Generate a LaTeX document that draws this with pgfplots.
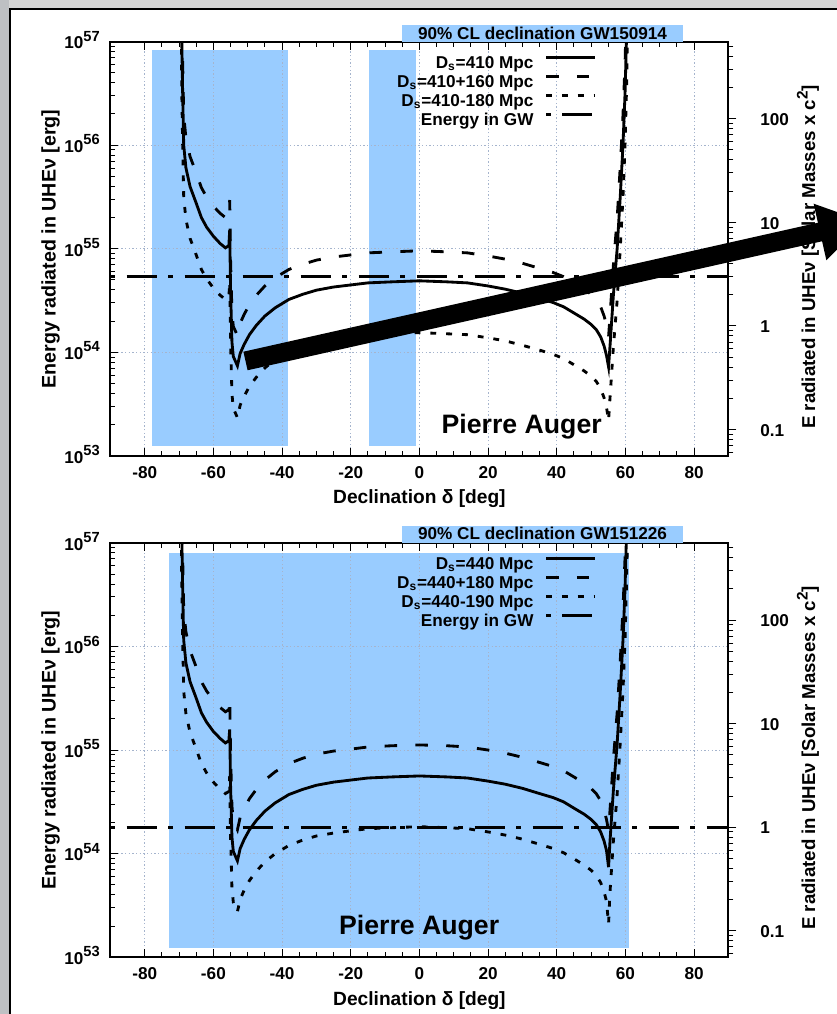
\documentclass[border=0pt]{standalone}
\usepackage{fontspec}
\setmainfont{Liberation Sans}
\usepackage{pgfplots}
\usepackage{pgfplotstable}
\pgfplotsset{compat=1.18}

\definecolor{auger}{RGB}{153,204,255}
\definecolor{gridc}{RGB}{165,180,205}
\definecolor{sideg}{RGB}{190,192,195}
\definecolor{topg}{RGB}{214,214,214}

\newcommand{\tk}{\fontsize{10.3}{12}\selectfont}
\newcommand{\lb}{\fontsize{11.5}{13}\selectfont}
\newcommand{\lby}{\fontsize{11.8}{13}\selectfont}
\newcommand{\lbr}{\fontsize{11.2}{13}\selectfont}
\newcommand{\ex}[1]{\raisebox{4.6pt}{\fontsize{8.8}{9}\selectfont #1}}

% declination, D_s, D_s + err, D_s - err   (energy in erg)
\pgfplotstableread{
dec    S        D        P
-69.4  1e58     1e58     1e58
-69.3  2.00e57  3.89e57  6.31e56
-69.2  1.00e57  1.95e57  3.16e56
-68.95 3.16e56  6.17e56  1.00e56
-68.65 1.00e56  1.95e56  3.16e55
-68.0  6.03e55  1.17e56  1.91e55
-66.8  3.98e55  7.76e55  1.26e55
-65.0  2.75e55  5.37e55  8.71e54
-63.5  2.00e55  3.89e55  6.31e54
-62.0  1.62e55  3.16e55  5.13e54
-60.0  1.32e55  2.57e55  4.17e54
-58.0  1.12e55  2.19e55  3.55e54
-56.5  1.02e55  2.00e55  3.24e54
-55.5  1.07e55  2.09e55  3.39e54
-55.25 1.51e55  2.95e55  4.79e54
-55.0  3.98e54  7.76e54  1.26e54
-54.6  1.26e54  2.45e54  3.98e53
-54.2  9.12e53  1.78e54  2.88e53
-53.0  7.41e53  1.45e54  2.34e53
-52.2  9.77e53  1.91e54  3.09e53
-51.0  1.20e54  2.34e54  3.80e53
-49.5  1.48e54  2.88e54  4.68e53
-47.5  1.82e54  3.55e54  5.75e53
-45.0  2.24e54  4.37e54  7.08e53
-42.0  2.69e54  5.25e54  8.51e53
-38.0  3.24e54  6.31e54  1.02e54
-34.0  3.63e54  7.08e54  1.15e54
-30.0  3.98e54  7.76e54  1.26e54
-25.0  4.27e54  8.32e54  1.35e54
-20.0  4.47e54  8.71e54  1.41e54
-15.0  4.68e54  9.12e54  1.48e54
-8.0   4.79e54  9.33e54  1.51e54
0.0    4.90e54  9.55e54  1.55e54
8.0    4.79e54  9.33e54  1.51e54
14.0   4.68e54  9.12e54  1.48e54
20.0   4.37e54  8.51e54  1.38e54
25.0   4.07e54  7.94e54  1.29e54
30.0   3.72e54  7.24e54  1.17e54
35.0   3.31e54  6.46e54  1.05e54
39.0   3.02e54  5.89e54  9.55e53
42.0   2.75e54  5.37e54  8.71e53
45.0   2.40e54  4.68e54  7.59e53
48.0   2.09e54  4.07e54  6.61e53
50.0   1.86e54  3.63e54  5.89e53
51.5   1.66e54  3.24e54  5.25e53
52.8   1.41e54  2.75e54  4.47e53
53.8   1.15e54  2.24e54  3.63e53
54.5   9.33e53  1.82e54  2.95e53
55.1   7.24e53  1.41e54  2.19e53
55.5   1.12e54  2.19e54  3.55e53
56.5   3.55e54  6.92e54  1.12e54
57.6   1.00e55  1.95e55  3.16e54
58.5   3.16e55  6.17e55  1.00e55
59.3   1.00e56  1.95e56  3.16e55
59.9   3.16e56  6.17e56  1.00e56
60.3   1.00e57  1.95e57  3.16e56
60.5   2.00e57  3.89e57  6.31e56
60.6   1e58     1e58     1e58
}\gwA

\pgfplotstableread{
dec    S        D        P
-69.4  1e58     1e58     1e58
-69.3  2.29e57  4.57e57  7.41e56
-69.2  1.15e57  2.29e57  3.72e56
-68.95 3.63e56  7.24e56  1.17e56
-68.65 1.15e56  2.29e56  3.72e55
-68.0  6.92e55  1.38e56  2.24e55
-66.8  4.57e55  9.12e55  1.48e55
-65.0  3.16e55  6.31e55  1.02e55
-63.5  2.29e55  4.57e55  7.41e54
-62.0  1.86e55  3.72e55  6.03e54
-60.0  1.51e55  3.02e55  4.90e54
-58.0  1.29e55  2.57e55  4.17e54
-56.5  1.17e55  2.34e55  3.80e54
-55.5  1.23e55  2.45e55  3.98e54
-55.25 1.58e55  3.16e55  5.62e54
-55.0  4.57e54  9.12e54  1.48e54
-54.6  1.45e54  2.88e54  4.68e53
-54.2  1.05e54  2.09e54  3.39e53
-53.0  8.51e53  1.70e54  2.75e53
-52.2  1.12e54  2.24e54  3.63e53
-51.0  1.38e54  2.75e54  4.47e53
-49.5  1.70e54  3.39e54  5.50e53
-47.5  2.09e54  4.17e54  6.76e53
-45.0  2.57e54  5.13e54  8.32e53
-42.0  3.09e54  6.17e54  1.00e54
-38.0  3.72e54  7.41e54  1.20e54
-34.0  4.17e54  8.32e54  1.35e54
-30.0  4.57e54  9.12e54  1.48e54
-25.0  4.90e54  9.77e54  1.58e54
-20.0  5.13e54  1.02e55  1.66e54
-15.0  5.37e54  1.07e55  1.74e54
-8.0   5.50e54  1.10e55  1.78e54
0.0    5.62e54  1.12e55  1.82e54
8.0    5.50e54  1.10e55  1.78e54
14.0   5.37e54  1.07e55  1.74e54
20.0   5.01e54  1.00e55  1.62e54
25.0   4.68e54  9.33e54  1.51e54
30.0   4.27e54  8.51e54  1.38e54
35.0   3.80e54  7.59e54  1.23e54
39.0   3.47e54  6.92e54  1.12e54
42.0   3.16e54  6.31e54  1.02e54
45.0   2.75e54  5.50e54  8.91e53
48.0   2.40e54  4.79e54  7.76e53
50.0   2.14e54  4.27e54  6.92e53
51.5   1.91e54  3.80e54  6.17e53
52.8   1.62e54  3.24e54  5.25e53
53.8   1.32e54  2.63e54  4.27e53
54.5   1.07e54  2.14e54  3.47e53
55.1   7.41e53  1.66e54  2.09e53
55.5   1.29e54  2.57e54  4.17e53
56.5   4.07e54  8.13e54  1.32e54
57.6   1.15e55  2.29e55  3.72e54
58.5   3.63e55  7.24e55  1.17e55
59.3   1.15e56  2.29e56  3.72e55
59.9   3.63e56  7.24e56  1.17e56
60.3   1.15e57  2.29e57  3.72e56
60.5   2.29e57  4.57e57  7.41e56
60.6   1e58     1e58     1e58
}\gwB

\pgfplotsset{
  geom/.style={
    scale only axis, width=370.8pt, height=248.64pt, anchor=south west,
    xmin=-90, xmax=90,
  },
  frame/.style={
    xtick={-80,-60,-40,-20,0,20,40,60,80},
    xticklabels={-80,-60,-40,-20,0,20,40,60,80},
    minor x tick num=3,
    xtick pos=both, ytick pos=left, tick align=inside,
    major tick length=4.8pt, minor tick length=3pt,
    tick style={black, line width=0.6pt},
    axis line style={line width=1.2pt},
    grid=major,
    major grid style={gridc, line width=0.6pt, dash pattern=on 0.7pt off 1.5pt},
    tick label style={font=\tk},
    xticklabel style={inner sep=0pt, anchor=base, yshift=-13.4pt},
    yticklabel style={inner sep=0pt, anchor=base east, xshift=-6.2pt, yshift=-4.4pt},
    legend cell align=right, legend plot pos=right,
    legend style={at={(0.7874,0.969)}, anchor=north east, draw=none, fill=none,
      inner sep=0pt, row sep=0.8pt, column sep=6.6pt, font=\tk,
      nodes={inner sep=0pt, text height=8pt, text depth=2.6pt}},
  },
  massframe/.style={
    axis x line=none, axis y line*=right,
    tick align=outside, major tick length=4.8pt, minor tick length=3pt,
    tick style={black, line width=0.6pt},
    axis line style={line width=1.2pt},
    tick label style={font=\tk},
    yticklabel style={inner sep=0pt, anchor=base west, xshift=14.2pt, yshift=-4pt},
  },
}

\begin{document}
\bfseries
\begin{tikzpicture}
\useasboundingbox (0pt,0pt) rectangle (502.2pt,608.4pt);
\begin{scope}[x=0.6pt,y=0.6pt]
  \fill[white] (0,0) rectangle (837,1014);
  \fill[sideg] (0,0) rectangle (8.5,1014);
  \fill[topg] (8.5,1005.5) rectangle (837,1014);
  \draw[black, line width=1.3pt] (9.6,0) -- (9.6,1005.3) -- (837,1005.3);
\end{scope}

% ---------- GW150914 ----------
% 90% CL declination bands (below the grid)
\begin{axis}[geom, hide axis, ymode=log, ymin=1e53, ymax=1e57, at={(66.24pt,334.8pt)}]
  \addplot[fill=auger, draw=none]
    coordinates {(-77.9,1.25e53) (-38.4,1.25e53) (-38.4,8.2e56) (-77.9,8.2e56)} -- cycle;
  \addplot[fill=auger, draw=none]
    coordinates {(-14.7,1.25e53) (-1.1,1.25e53) (-1.1,8.2e56) (-14.7,8.2e56)} -- cycle;
\end{axis}
\begin{axis}[geom, frame, ymode=log, ymin=1e53, ymax=1e57,
    ytick={1e53,1e54,1e55,1e56,1e57},
    yticklabels={10\ex{53},10\ex{54},10\ex{55},10\ex{56},10\ex{57}},
    minor ytick={2e53,3e53,4e53,5e53,6e53,7e53,8e53,9e53,
                 2e54,3e54,4e54,5e54,6e54,7e54,8e54,9e54,
                 2e55,3e55,4e55,5e55,6e55,7e55,8e55,9e55,
                 2e56,3e56,4e56,5e56,6e56,7e56,8e56,9e56},
    legend image code/.code={\draw[#1] (0pt,3.6pt) -- (29.4pt,3.6pt);},
    at={(66.24pt,334.8pt)}]
  \addplot[black, line width=1.7pt] table[x=dec, y=S] {\gwA};
  \addlegendentry{D\textsubscript{s}=410 Mpc}
  \addplot[black, line width=1.7pt, dash pattern=on 7.5pt off 11pt] table[x=dec, y=D] {\gwA};
  \addlegendentry{D\textsubscript{s}=410+160 Mpc}
  \addplot[black, line width=1.7pt, dash pattern=on 3.5pt off 6pt] table[x=dec, y=P] {\gwA};
  \addlegendentry{D\textsubscript{s}=410-180 Mpc}
  \addplot[black, line width=1.9pt, dash pattern=on 2.8pt off 7pt on 18pt off 7pt]
    coordinates {(-90,5.4e54) (90,5.4e54)};
  \addlegendentry{Energy in GW}
\end{axis}
\begin{axis}[geom, massframe, ymode=log, ymin=0.05556, ymax=555.6,
    ytick={0.1,1,10,100}, yticklabels={0.1,1,10,100},
    minor ytick={0.06,0.07,0.08,0.09,0.2,0.3,0.4,0.5,0.6,0.7,0.8,0.9,
                 2,3,4,5,6,7,8,9,20,30,40,50,60,70,80,90,200,300,400,500},
    at={(66.24pt,334.8pt)}]
\end{axis}

% ---------- GW151226 ----------
\begin{axis}[geom, hide axis, ymode=log, ymin=1e53, ymax=1e57, at={(66.24pt,34.02pt)}]
  \addplot[fill=auger, draw=none]
    coordinates {(-72.9,1.23e53) (61.1,1.23e53) (61.1,7.9e56) (-72.9,7.9e56)} -- cycle;
\end{axis}
\begin{axis}[geom, frame, ymode=log, ymin=1e53, ymax=1e57,
    ytick={1e53,1e54,1e55,1e56,1e57},
    yticklabels={10\ex{53},10\ex{54},10\ex{55},10\ex{56},10\ex{57}},
    minor ytick={2e53,3e53,4e53,5e53,6e53,7e53,8e53,9e53,
                 2e54,3e54,4e54,5e54,6e54,7e54,8e54,9e54,
                 2e55,3e55,4e55,5e55,6e55,7e55,8e55,9e55,
                 2e56,3e56,4e56,5e56,6e56,7e56,8e56,9e56},
    legend image code/.code={\draw[#1] (0pt,3.6pt) -- (29.4pt,3.6pt);},
    at={(66.24pt,34.02pt)}]
  \addplot[black, line width=1.7pt] table[x=dec, y=S] {\gwB};
  \addlegendentry{D\textsubscript{s}=440 Mpc}
  \addplot[black, line width=1.7pt, dash pattern=on 7.5pt off 11pt] table[x=dec, y=D] {\gwB};
  \addlegendentry{D\textsubscript{s}=440+180 Mpc}
  \addplot[black, line width=1.7pt, dash pattern=on 3.5pt off 6pt] table[x=dec, y=P] {\gwB};
  \addlegendentry{D\textsubscript{s}=440-190 Mpc}
  \addplot[black, line width=1.9pt, dash pattern=on 2.8pt off 7pt on 18pt off 7pt]
    coordinates {(-90,1.8e54) (90,1.8e54)};
  \addlegendentry{Energy in GW}
\end{axis}
\begin{axis}[geom, massframe, ymode=log, ymin=0.05556, ymax=555.6,
    ytick={0.1,1,10,100}, yticklabels={0.1,1,10,100},
    minor ytick={0.06,0.07,0.08,0.09,0.2,0.3,0.4,0.5,0.6,0.7,0.8,0.9,
                 2,3,4,5,6,7,8,9,20,30,40,50,60,70,80,90,200,300,400,500},
    at={(66.24pt,34.02pt)}]
\end{axis}

\begin{scope}[x=0.6pt,y=0.6pt]
  % titles
  \fill[auger] (402,972.3) rectangle (683,989);
  \node[font=\tk, anchor=base, inner sep=0pt] at (542.5,974.7) {90\% CL declination GW150914};
  \fill[auger] (402,471.3) rectangle (683,488);
  \node[font=\tk, anchor=base, inner sep=0pt] at (542.5,474) {90\% CL declination GW151226};
  % detector
  \node[font=\fontsize{16}{19}\selectfont, anchor=base, inner sep=0pt] at (521.7,580.5) {Pierre Auger};
  \node[font=\fontsize{16}{19}\selectfont, anchor=base, inner sep=0pt] at (419.2,79) {Pierre Auger};
  % axis labels
  \node[font=\lb, anchor=base, inner sep=0pt] at (419.4,510) {Declination δ [deg]};
  \node[font=\lb, anchor=base, inner sep=0pt] at (419.4,8.7) {Declination δ [deg]};
  \node[font=\lby, anchor=base, inner sep=0pt, rotate=90] at (55.5,765) {Energy radiated in UHEν [erg]};
  \node[font=\lby, anchor=base, inner sep=0pt, rotate=90] at (55.5,264) {Energy radiated in UHEν [erg]};
  \node[font=\lbr, anchor=base, inner sep=0pt, rotate=90] at (815,757) {E radiated in UHEν [Solar Masses x c\raisebox{4.4pt}{\fontsize{9.2}{10}\selectfont 2}]};
  \node[font=\lbr, anchor=base, inner sep=0pt, rotate=90] at (815,256) {E radiated in UHEν [Solar Masses x c\raisebox{4.4pt}{\fontsize{9.2}{10}\selectfont 2}]};
  % annotation arrow
  \clip (0,0) rectangle (837,1014);
  \fill[black] (243.41,662.27) -- (817.91,791.27) -- (813.63,810.29) -- (864.87,792.11)
    -- (826.37,753.71) -- (822.09,772.73) -- (247.59,643.73) -- cycle;
\end{scope}
\end{tikzpicture}
\end{document}
